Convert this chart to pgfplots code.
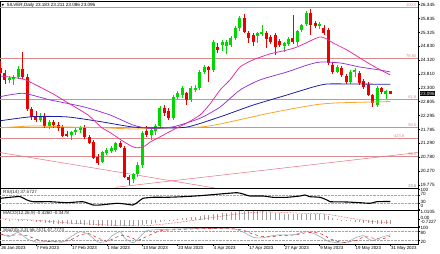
\documentclass[border=0pt]{standalone}
\usepackage{pgfplots}
\pgfplotsset{compat=1.18}
\usepackage{pgfplotstable}
\usepackage{fontspec}
\setmainfont{Liberation Sans}
\newfontfamily\symfont{DejaVu Sans}

\definecolor{bull}{RGB}{0,215,0}
\definecolor{bear}{RGB}{235,0,0}
\definecolor{mapink}{RGB}{228,40,160}
\definecolor{mapurple}{RGB}{150,50,210}
\definecolor{mablue}{RGB}{30,30,165}
\definecolor{maorange}{RGB}{250,165,40}
\definecolor{fibc}{RGB}{215,140,140}
\definecolor{trendc}{RGB}{232,110,130}
\definecolor{stochk}{RGB}{140,165,175}

\newcommand{\sz}{\fontsize{4.6}{5}\selectfont}
\newcommand{\fz}{\fontsize{4.1}{4.5}\selectfont}
\newcommand{\lab}[2]{\smash{\raisebox{#1}{#2}}}

\pgfplotstableread{
i o h l c
0 24.05 24.30 23.80 23.85
1 23.85 23.95 23.45 23.58
2 23.58 23.75 23.48 23.66
3 23.64 23.78 23.40 23.72
4 23.72 24.10 23.62 24.00
5 24.00 24.62 23.65 23.72
6 23.72 23.80 22.45 22.55
7 22.55 22.62 22.15 22.25
8 22.30 22.45 22.05 22.15
9 22.15 22.38 22.08 22.30
10 22.30 22.40 21.85 21.92
11 21.92 22.12 21.80 22.05
12 22.05 22.12 21.85 21.95
13 21.97 22.05 21.75 21.84
14 21.88 21.95 21.50 21.57
15 21.62 21.75 21.50 21.58
16 21.58 21.75 21.40 21.70
17 21.70 21.85 21.60 21.78
18 21.78 21.92 21.68 21.86
19 21.86 21.95 21.45 21.52
20 21.52 21.60 21.25 21.30
21 21.33 21.40 20.70 20.75
22 20.80 20.88 20.50 20.57
23 20.62 21.00 20.55 20.97
24 20.95 21.10 20.85 21.04
25 21.00 21.18 20.92 21.12
26 21.05 21.32 20.98 21.28
27 21.28 21.38 21.10 21.15
28 21.10 21.18 20.02 20.06
29 20.06 20.12 19.78 19.96
30 19.98 20.22 19.85 20.15
31 20.15 20.60 20.05 20.50
32 20.50 21.75 20.40 21.66
33 21.72 21.90 21.50 21.59
34 21.60 21.85 21.40 21.78
35 21.72 21.98 21.60 21.90
36 21.90 22.65 21.85 22.57
37 22.57 22.70 22.30 22.39
38 22.45 22.58 22.15 22.21
39 22.21 23.05 22.15 22.98
40 22.98 23.20 22.90 23.12
41 23.05 23.38 22.95 23.30
42 23.12 23.15 22.70 22.87
43 22.87 23.38 22.80 23.30
44 23.25 23.40 23.15 23.32
45 23.30 23.95 23.25 23.89
46 23.89 24.15 23.80 24.07
47 24.07 24.12 23.52 23.96
48 23.96 25.05 23.90 24.98
49 24.80 24.95 24.60 24.69
50 24.87 25.05 24.65 24.98
51 24.85 25.05 24.55 24.98
52 24.87 25.20 24.80 25.13
53 25.13 25.55 25.05 25.49
54 25.49 25.95 25.40 25.86
55 25.86 26.00 25.30 25.35
56 25.31 25.40 24.93 25.13
57 25.24 25.30 24.85 24.98
58 25.20 25.35 24.95 25.31
59 25.31 25.62 25.20 25.35
60 25.31 25.40 24.75 25.09
61 25.17 25.25 24.90 24.98
62 25.24 25.30 24.51 24.80
63 25.02 25.10 24.80 24.88
64 24.85 25.00 24.62 24.95
65 24.91 25.15 24.85 25.09
66 25.13 25.97 24.92 24.98
67 24.98 25.42 24.83 25.38
68 25.42 25.65 25.35 25.60
69 25.64 26.10 25.58 26.05
70 26.04 26.19 25.25 25.60
71 25.68 25.75 25.50 25.57
72 25.55 25.72 25.45 25.65
73 25.49 25.60 25.25 25.31
74 25.42 25.50 24.15 24.22
75 24.14 24.25 23.80 23.89
76 23.89 24.15 23.85 24.07
77 24.03 24.10 23.72 23.78
78 23.73 23.80 23.45 23.52
79 23.53 23.95 23.45 23.89
80 23.89 24.05 23.70 23.95
81 23.85 23.92 23.42 23.49
82 23.55 23.65 23.28 23.34
83 23.40 23.52 23.00 23.05
84 23.05 23.10 22.60 22.76
85 22.69 23.36 22.62 23.31
86 23.30 23.35 23.10 23.16
87 23.10 23.22 22.90 23.18
88 23.183 23.211 23.086 23.096
}\candles

\pgfplotsset{
  pane/.style={
    scale only axis, width=418pt, anchor=south west,
    xmin=-0.11, xmax=94.24,
    axis line style={black, line width=0.5pt},
    xtick=\empty,
    ytick pos=right, yticklabel pos=right,
    tick align=outside, major tick length=1.8pt,
    tick style={black, line width=0.4pt},
    yticklabel style={font=\sz, anchor=west, inner sep=0.6pt, text=black},
    /pgf/number format/assume math mode=true,
    clip mode=individual,
  },
}

\begin{document}
\begin{tikzpicture}
\useasboundingbox (0,0) rectangle (440pt,254pt);

% ---------------- main price pane ----------------
\begin{axis}[pane, at={(0pt,66pt)}, height=187pt, ymin=19.655, ymax=26.48,
  ytick={19.775,20.270,20.780,21.290,21.785,22.295,22.805,23.300,23.810,24.320,24.830,25.325,25.835,26.345},
  yticklabels={19.775,20.270,20.780,21.290,21.785,22.295,22.805,23.300,23.810,24.320,24.830,25.325,25.835,26.345}]
% Fibonacci levels
\addplot[fibc, line width=0.5pt] coordinates {(-1,26.26) (95,26.26)};
\addplot[fibc, line width=0.5pt] coordinates {(-1,24.38) (95,24.38)};
\addplot[fibc, line width=0.5pt] coordinates {(-1,22.90) (95,22.90)};
\addplot[fibc, line width=0.5pt] coordinates {(-1,21.86) (95,21.86)};
\addplot[fibc, line width=0.5pt] coordinates {(-1,21.48) (95,21.48)};
\addplot[fibc, line width=0.5pt] coordinates {(-1,20.82) (95,20.82)};
\node[fibc, font=\fz, anchor=south east, inner sep=0.4pt] at (axis cs:94.0,26.26) {100.0};
\node[fibc, font=\fz, anchor=south east, inner sep=0.4pt] at (axis cs:94.0,24.38) {78.60};
\node[fibc, font=\fz, anchor=south east, inner sep=0.4pt] at (axis cs:94.0,22.90) {61.8};
\node[fibc, font=\fz, anchor=south east, inner sep=0.4pt] at (axis cs:94.0,21.86) {50.0};
\node[fibc, font=\fz, anchor=south east, inner sep=0.4pt] at (axis cs:91.3,21.48) {423.6};
\node[fibc, font=\fz, anchor=south east, inner sep=0.4pt] at (axis cs:94.0,20.82) {38.2};
\node[gray, font=\fz, anchor=south east, inner sep=0.4pt] at (axis cs:94.0,19.66) {23.6};
% trend lines
\addplot[trendc, line width=0.5pt] coordinates {(-0.11,20.95) (48.4,19.655)};
\addplot[trendc, line width=0.5pt] coordinates {(26.0,19.68) (94.24,20.95)};
% candles: wicks
\addplot[draw=none, mark=none, restrict expr to domain={\thisrow{c}-\thisrow{o}}{0:10},
  error bars/.cd, y dir=both, y explicit, error mark=none,
  error bar style={draw=bull, draw opacity=1, line width=0.7pt}]
  table[x=i, y expr={(\thisrow{h}+\thisrow{l})/2}, y error expr={(\thisrow{h}-\thisrow{l})/2}] {\candles};
\addplot[draw=none, mark=none, restrict expr to domain={\thisrow{c}-\thisrow{o}}{-10:-0.00001},
  error bars/.cd, y dir=both, y explicit, error mark=none,
  error bar style={draw=bear, draw opacity=1, line width=0.7pt}]
  table[x=i, y expr={(\thisrow{h}+\thisrow{l})/2}, y error expr={(\thisrow{h}-\thisrow{l})/2}] {\candles};
% candles: bodies
\addplot[draw=none, mark=none, restrict expr to domain={\thisrow{c}-\thisrow{o}}{0:10},
  error bars/.cd, y dir=both, y explicit, error mark=none,
  error bar style={draw=bull, draw opacity=1, line width=3pt}]
  table[x=i, y expr={(\thisrow{o}+\thisrow{c})/2}, y error expr={abs(\thisrow{c}-\thisrow{o})/2}] {\candles};
\addplot[draw=none, mark=none, restrict expr to domain={\thisrow{c}-\thisrow{o}}{-10:-0.00001},
  error bars/.cd, y dir=both, y explicit, error mark=none,
  error bar style={draw=bear, draw opacity=1, line width=3pt}]
  table[x=i, y expr={(\thisrow{o}+\thisrow{c})/2}, y error expr={abs(\thisrow{c}-\thisrow{o})/2}] {\candles};
% moving averages
\addplot[maorange, line width=0.8pt, smooth, tension=0.4] coordinates {
(0,21.85) (7.34,21.92) (15.01,21.88) (22.46,21.86) (29.91,21.81) (37.58,21.85) (45.03,21.88) (49.55,21.99) (60.84,22.39) (70.54,22.68) (75.96,22.76) (88,22.81)};
\addplot[mablue, line width=0.8pt, smooth, tension=0.4] coordinates {
(0,22.11) (7.34,22.26) (15.01,22.25) (22.46,22.08) (29.91,21.88) (35.33,21.85) (42.10,21.88) (49.55,22.25) (57.00,22.68) (64.67,23.05) (70.54,23.34) (73.70,23.45) (79.57,23.45) (88,23.44)};
\addplot[mapurple, line width=0.75pt, smooth, tension=0.4] coordinates {
(0,22.99) (5.15,23.11) (11.17,22.87) (18.69,22.62) (24.72,22.32) (29.98,21.95) (33.75,21.83) (39.01,21.89) (45.03,22.20) (49.55,22.61) (54.06,23.23) (58.58,23.60) (64.67,23.89) (69.19,24.14) (72.12,24.25) (76.64,24.22) (81.15,24.07) (85.67,23.96) (88,23.89)};
\addplot[mapink, line width=0.75pt, smooth, tension=0.4] coordinates {
(0,23.74) (5.08,23.63) (8.92,23.34) (12.30,23.05) (15.24,22.76) (19.75,22.32) (22.69,21.88) (24.94,21.66) (27.20,21.41) (29.46,21.19) (30.81,21.12) (32.62,21.19) (33.75,21.33) (35.55,21.48) (37.58,21.66) (39.84,21.85) (42.10,22.03) (45.03,22.32) (47.29,22.72) (49.55,23.23) (51.81,23.60) (54.06,24.07) (57.00,24.33) (60.84,24.55) (64.67,24.69) (66.93,24.80) (69.86,25.02) (72.12,25.17) (73.70,25.09) (75.06,24.95) (78.22,24.69) (81.83,24.33) (84.54,24.07) (88,23.78)};
% current price box
\node[fill=black, text=white, font=\sz, anchor=west, inner sep=0.7pt, xshift=1.6pt] at (axis cs:94.24,23.096) {23.096};
\end{axis}

% ---------------- RSI pane ----------------
\begin{axis}[pane, at={(0pt,44pt)}, height=22pt, ymin=-5, ymax=105,
  ytick={0,30,70,100},
  yticklabels={\lab{1.35pt}{0},\lab{-0.65pt}{30},\lab{-0.65pt}{70},\lab{-2.65pt}{100}}]
\addplot[gray!70, densely dotted, line width=0.4pt] coordinates {(-1,30) (95,30)};
\addplot[gray!70, densely dotted, line width=0.4pt] coordinates {(-1,70) (95,70)};
\addplot[black, line width=1.1pt, smooth, tension=0.3] coordinates {
(0,53.5) (2.14,58.5) (4.4,62) (5.98,45) (7.34,36.5) (11.17,36.5) (15.01,31.5) (18.62,36.5) (20.88,20) (22.46,20) (26.3,28.5) (28.1,25) (29.91,20) (31.04,35) (32.17,53.5) (34.42,58.5) (37.58,58.5) (41.2,61.5) (45.03,66.5) (49.55,75) (53.39,81.5) (54.74,75) (56.32,65) (59.26,65) (61.51,58.5) (64.67,58.5) (67.61,65) (68.74,70) (69.86,61.5) (72.12,58.5) (73.7,45) (74.38,36.5) (78.22,35) (81.15,31.5) (83.41,28.5) (85,36.5) (88,37.57)};
\end{axis}

% ---------------- MACD pane ----------------
\begin{axis}[pane, at={(0pt,27pt)}, height=17pt, ymin=-0.791, ymax=1.051,
  ytick={-0.7227,0,1.0105},
  yticklabels={\lab{2.45pt}{-0.7227},\lab{-0.25pt}{0.00},\lab{-3.25pt}{1.0105}}]
\addplot[ycomb, gray!75, line width=0.55pt] coordinates {
(0,0.05) (1,0.03) (2,0.01) (3,0.00) (4,0.02) (5,0.02) (6,-0.08) (7,-0.17) (8,-0.25) (9,-0.30)
(10,-0.36) (11,-0.39) (12,-0.42) (13,-0.45) (14,-0.49) (15,-0.51) (16,-0.52) (17,-0.52) (18,-0.51) (19,-0.53)
(20,-0.56) (21,-0.62) (22,-0.68) (23,-0.69) (24,-0.69) (25,-0.67) (26,-0.64) (27,-0.62) (28,-0.68) (29,-0.72)
(30,-0.72) (31,-0.69) (32,-0.58) (33,-0.50) (34,-0.42) (35,-0.35) (36,-0.23) (37,-0.16) (38,-0.11) (39,-0.02)
(40,0.07) (41,0.15) (42,0.19) (43,0.25) (44,0.30) (45,0.38) (46,0.46) (47,0.50) (48,0.61) (49,0.67)
(50,0.73) (51,0.77) (52,0.82) (53,0.88) (54,0.97) (55,1.00) (56,0.96) (57,0.92) (58,0.91) (59,0.90)
(60,0.86) (61,0.81) (62,0.75) (63,0.70) (64,0.66) (65,0.64) (66,0.60) (67,0.60) (68,0.61) (69,0.66)
(70,0.66) (71,0.65) (72,0.64) (73,0.61) (74,0.40) (75,0.22) (76,0.10) (77,-0.02) (78,-0.13) (79,-0.18)
(80,-0.21) (81,-0.27) (82,-0.33) (83,-0.40) (84,-0.48) (85,-0.47) (86,-0.46) (87,-0.45) (88,-0.426)};
\addplot[bear, densely dotted, line width=0.5pt] coordinates {
(0,0.10) (4,0.05) (8,-0.06) (12,-0.22) (16,-0.38) (20,-0.47) (24,-0.58) (28,-0.63) (31,-0.67) (33,-0.64) (36,-0.52) (40,-0.30) (44,-0.05) (48,0.25) (52,0.52) (56,0.76) (60,0.85) (64,0.79) (68,0.70) (72,0.66) (74,0.58) (76,0.42) (78,0.24) (80,0.08) (82,-0.06) (84,-0.20) (86,-0.29) (88,-0.348)};
\end{axis}

% ---------------- Stochastic pane ----------------
\begin{axis}[pane, at={(0pt,10pt)}, height=17pt, ymin=-2, ymax=104,
  ytick={20,80,100},
  yticklabels={\lab{-3.15pt}{20},\lab{-3.6pt}{80},\lab{-2.2pt}{100}},
  xtick={0,8,16,24,32,40,48,56,64,72,80,88}, xtick pos=left,
  xticklabels={26 Jan 2023,7 Feb 2023,17 Feb 2023,1 Mar 2023,13 Mar 2023,23 Mar 2023,4 Apr 2023,17 Apr 2023,27 Apr 2023,9 May 2023,19 May 2023,31 May 2023},
  xticklabel style={font=\fontsize{4.4}{5}\selectfont, anchor=north west, inner sep=0.6pt, text=black}]
\addplot[gray!70, densely dotted, line width=0.4pt] coordinates {(-1,20) (95,20)};
\addplot[gray!70, densely dotted, line width=0.4pt] coordinates {(-1,80) (95,80)};
\addplot[stochk, line width=0.55pt, smooth, tension=0.4] coordinates {
(0,60) (2,45) (4,70) (6,30) (8,10) (10,12) (12,15) (14,10) (16,45) (18,75) (20,55) (22,10) (24,15) (25,45) (27,75) (28,35) (30,5) (31,30) (33,80) (36,88) (40,92) (45,95) (50,94) (53,90) (55,70) (57,40) (59,36) (61,48) (63,55) (66,55) (68,70) (69,78) (71,60) (73,30) (74,15) (76,6) (78,8) (80,35) (81,45) (82,50) (83,30) (84,20) (86,40) (88,56.75)};
\addplot[bear, dashed, line width=0.45pt, smooth, tension=0.4] coordinates {
(0,58) (2,52) (4,55) (6,50) (8,28) (10,15) (12,12) (14,12) (16,25) (18,55) (20,62) (22,35) (24,15) (25,25) (27,50) (28,52) (30,32) (31,20) (33,45) (36,80) (40,88) (45,93) (50,93) (53,92) (55,82) (57,60) (59,45) (61,42) (63,50) (66,54) (68,62) (69,70) (71,70) (73,55) (74,35) (76,15) (78,8) (80,18) (81,30) (82,42) (83,42) (84,35) (86,28) (88,47.78)};
\end{axis}

% ---------------- texts ----------------
\node[anchor=west, inner sep=0pt, font=\fontsize{4.6}{5}\selectfont, text=black] at (1.5pt,248.5pt)
  {{\symfont\fontsize{3.3}{4}\selectfont ▼}\hspace{2.5pt}SILVER,Daily 23.183 23.211 23.086 23.096};
\node[anchor=west, inner sep=0pt, font=\sz, text=black!85] at (3pt,62pt) {RSI(14) 37.5727};
\node[anchor=west, inner sep=0pt, font=\sz, text=black!85] at (3pt,40.5pt) {MACD(12,26,9) -0.4260 -0.3478};
\node[anchor=west, inner sep=0pt, font=\sz, text=black!85] at (3pt,23.5pt) {Stoch(5,3,3) 56.7471 47.7773};
\end{tikzpicture}
\end{document}
